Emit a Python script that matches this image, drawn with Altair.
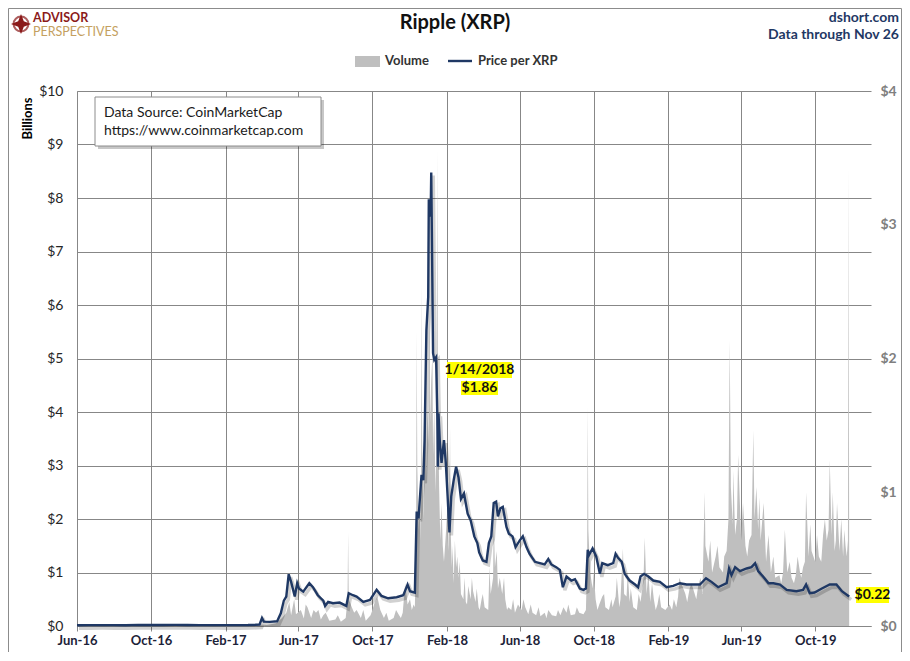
import altair as alt
import pandas as pd

FONT = "Lato"
GRID = "#878787"
NAVY = "#1F3864"

# ---------------- price per XRP (USD) ----------------
price_dates = [
    "2016-06-01", "2016-06-20", "2016-07-10", "2016-07-30", "2016-08-20", "2016-09-10",
    "2016-09-30", "2016-10-20", "2016-11-10", "2016-11-30", "2016-12-20", "2017-01-10",
    "2017-01-30", "2017-02-20", "2017-03-10", "2017-03-22", "2017-03-29",
    "2017-04-02", "2017-04-05", "2017-04-15", "2017-04-27", "2017-05-03", "2017-05-08",
    "2017-05-12", "2017-05-16", "2017-05-20", "2017-05-26", "2017-05-30", "2017-06-02",
    "2017-06-09", "2017-06-19", "2017-06-25", "2017-07-03", "2017-07-12", "2017-07-15",
    "2017-07-20", "2017-07-28", "2017-08-08", "2017-08-19", "2017-08-23", "2017-08-30",
    "2017-09-05", "2017-09-16", "2017-09-27", "2017-10-08", "2017-10-16", "2017-10-27",
    "2017-11-10", "2017-11-21", "2017-11-28", "2017-12-02", "2017-12-10", "2017-12-13",
    "2017-12-16", "2017-12-21", "2017-12-24", "2017-12-26", "2017-12-29",
    "2018-01-01", "2018-01-02", "2018-01-05", "2018-01-06", "2018-01-07", "2018-01-09",
    "2018-01-11", "2018-01-14", "2018-01-16", "2018-01-17", "2018-01-18", "2018-01-20",
    "2018-01-23", "2018-01-27", "2018-01-30", "2018-02-02", "2018-02-05", "2018-02-08",
    "2018-02-12", "2018-02-16", "2018-02-20", "2018-02-24", "2018-03-01", "2018-03-07",
    "2018-03-12", "2018-03-18", "2018-03-23", "2018-03-26", "2018-04-01", "2018-04-07",
    "2018-04-11", "2018-04-15", "2018-04-19", "2018-04-23", "2018-04-26", "2018-04-30",
    "2018-05-04", "2018-05-10", "2018-05-14", "2018-05-20", "2018-05-25", "2018-06-01",
    "2018-06-06", "2018-06-12", "2018-06-17", "2018-06-26", "2018-07-04", "2018-07-12",
    "2018-07-18", "2018-07-23", "2018-07-31", "2018-08-06", "2018-08-11", "2018-08-17",
    "2018-08-25", "2018-08-31", "2018-09-08", "2018-09-14", "2018-09-18", "2018-09-21",
    "2018-09-23", "2018-09-29", "2018-10-05", "2018-10-11", "2018-10-15", "2018-10-24",
    "2018-11-02", "2018-11-06", "2018-11-10", "2018-11-16", "2018-11-21", "2018-11-29",
    "2018-12-08", "2018-12-13", "2018-12-17", "2018-12-23", "2018-12-30",
    "2019-01-07", "2019-01-18", "2019-01-29", "2019-02-09", "2019-02-20", "2019-03-03",
    "2019-03-14", "2019-03-25", "2019-04-04", "2019-04-13", "2019-04-24", "2019-05-08",
    "2019-05-12", "2019-05-16", "2019-05-22", "2019-05-30", "2019-06-10", "2019-06-18",
    "2019-06-24", "2019-06-29", "2019-07-07", "2019-07-16", "2019-07-24", "2019-08-04",
    "2019-08-15", "2019-08-31", "2019-09-11", "2019-09-16", "2019-09-22", "2019-09-30",
    "2019-10-12", "2019-10-25", "2019-11-05", "2019-11-14", "2019-11-26",
]
price_values = [
    0.0059, 0.0065, 0.0067, 0.0062, 0.0061, 0.0083,
    0.0075, 0.0079, 0.0084, 0.0073, 0.0065, 0.0069,
    0.0063, 0.0064, 0.0070, 0.0090, 0.0110,
    0.060, 0.033, 0.031, 0.035, 0.095, 0.19,
    0.22, 0.387, 0.33, 0.22, 0.32, 0.28,
    0.257, 0.32, 0.29, 0.23, 0.19, 0.15,
    0.18, 0.17, 0.175, 0.15, 0.245, 0.23,
    0.22, 0.18, 0.195, 0.27, 0.225, 0.207,
    0.215, 0.23, 0.31, 0.26, 0.25, 0.855,
    0.805, 1.13, 1.09, 1.39, 2.21,
    2.46, 3.19, 3.06, 3.39, 2.96, 2.04,
    1.99, 2.01, 1.57, 1.19, 1.59, 1.39,
    1.22, 1.39, 1.22, 0.97, 0.70, 0.97,
    1.09, 1.19, 1.11, 0.95, 0.99, 0.84,
    0.79, 0.67, 0.62, 0.55, 0.49, 0.48,
    0.62, 0.67, 0.92, 0.93, 0.82, 0.88,
    0.89, 0.74, 0.69, 0.67, 0.59, 0.64,
    0.67, 0.59, 0.54, 0.48, 0.47, 0.46,
    0.50, 0.46, 0.44, 0.42, 0.29, 0.37,
    0.34, 0.35, 0.28, 0.27, 0.28, 0.57,
    0.53, 0.58, 0.52, 0.39, 0.47, 0.455,
    0.47, 0.54, 0.51, 0.48, 0.39, 0.34,
    0.31, 0.29, 0.37, 0.39, 0.37,
    0.34, 0.33, 0.29, 0.30, 0.32, 0.31,
    0.31, 0.31, 0.357, 0.33, 0.29, 0.32,
    0.43, 0.38, 0.44, 0.41, 0.43, 0.44,
    0.47, 0.41, 0.37, 0.32, 0.32, 0.31,
    0.27, 0.26, 0.27, 0.31, 0.245, 0.25,
    0.28, 0.31, 0.31, 0.26, 0.22,
]

# ---------------- daily volume (USD billions) ----------------
vol_dates = [
    "2016-06-01", "2016-08-01", "2016-10-01", "2016-12-01", "2017-02-01", "2017-03-20",
    "2017-04-01", "2017-04-10", "2017-04-25", "2017-05-05", "2017-05-12", "2017-05-17",
    "2017-05-20", "2017-05-25", "2017-05-28", "2017-06-05", "2017-06-10", "2017-06-16",
    "2017-06-22", "2017-06-30", "2017-07-08", "2017-07-16", "2017-07-22", "2017-08-01",
    "2017-08-10", "2017-08-18", "2017-08-21", "2017-08-22", "2017-08-23", "2017-08-28",
    "2017-09-05", "2017-09-12", "2017-09-20", "2017-09-28", "2017-10-05", "2017-10-09",
    "2017-10-14", "2017-10-20", "2017-10-28", "2017-11-05", "2017-11-14", "2017-11-20",
    "2017-11-24", "2017-11-28", "2017-12-05", "2017-12-10", "2017-12-12", "2017-12-13",
    "2017-12-14", "2017-12-16", "2017-12-18", "2017-12-20", "2017-12-21", "2017-12-22",
    "2017-12-24", "2017-12-26", "2017-12-28", "2017-12-29", "2017-12-31",
    "2018-01-02", "2018-01-03", "2018-01-04", "2018-01-06", "2018-01-08", "2018-01-09",
    "2018-01-11", "2018-01-13", "2018-01-15", "2018-01-16", "2018-01-17", "2018-01-19",
    "2018-01-21", "2018-01-23", "2018-01-25", "2018-01-27", "2018-01-30", "2018-02-01",
    "2018-02-03", "2018-02-05", "2018-02-06", "2018-02-07", "2018-02-09", "2018-02-12",
    "2018-02-14", "2018-02-16", "2018-02-18", "2018-02-20", "2018-02-24", "2018-02-28",
    "2018-03-04", "2018-03-08", "2018-03-12", "2018-03-16", "2018-03-20", "2018-03-25",
    "2018-03-30", "2018-04-04", "2018-04-10", "2018-04-12", "2018-04-14", "2018-04-18",
    "2018-04-19", "2018-04-21", "2018-04-24", "2018-04-26", "2018-04-29", "2018-05-03",
    "2018-05-08", "2018-05-13", "2018-05-18", "2018-05-24", "2018-05-29", "2018-06-04",
    "2018-06-10", "2018-06-15", "2018-06-22", "2018-06-28", "2018-07-05", "2018-07-12",
    "2018-07-18", "2018-07-24", "2018-07-31", "2018-08-07", "2018-08-12", "2018-08-17",
    "2018-08-24", "2018-08-31", "2018-09-07", "2018-09-14", "2018-09-18", "2018-09-20",
    "2018-09-21", "2018-09-22", "2018-09-25", "2018-09-29", "2018-10-04", "2018-10-10",
    "2018-10-15", "2018-10-20", "2018-10-26", "2018-11-01", "2018-11-06", "2018-11-14",
    "2018-11-18", "2018-11-20", "2018-11-24", "2018-11-29", "2018-12-05", "2018-12-11",
    "2018-12-17", "2018-12-20", "2018-12-24", "2018-12-27",
    "2019-01-02", "2019-01-08", "2019-01-14", "2019-01-20", "2019-01-27", "2019-02-03",
    "2019-02-10", "2019-02-17", "2019-02-24", "2019-03-01", "2019-03-08", "2019-03-15",
    "2019-03-22", "2019-03-29", "2019-04-02", "2019-04-03", "2019-04-08", "2019-04-14",
    "2019-04-20", "2019-04-26", "2019-05-02", "2019-05-08", "2019-05-11", "2019-05-13",
    "2019-05-15", "2019-05-18", "2019-05-22", "2019-05-25", "2019-05-27", "2019-06-01",
    "2019-06-08", "2019-06-14", "2019-06-18", "2019-06-21", "2019-06-23", "2019-06-29",
    "2019-07-03", "2019-07-08", "2019-07-12", "2019-07-20", "2019-07-27", "2019-08-03",
    "2019-08-09", "2019-08-12", "2019-08-16", "2019-08-23", "2019-08-30", "2019-09-06",
    "2019-09-11", "2019-09-16", "2019-09-20", "2019-09-25", "2019-10-01", "2019-10-07",
    "2019-10-14", "2019-10-20", "2019-10-25", "2019-10-28", "2019-11-02", "2019-11-06",
    "2019-11-10", "2019-11-16", "2019-11-20", "2019-11-24", "2019-11-25", "2019-11-26",
]
vol_values = [
    0.002, 0.003, 0.004, 0.003, 0.004, 0.008,
    0.03, 0.02, 0.05, 0.15, 0.25, 0.45,
    0.2, 0.5, 0.22, 0.3, 0.14, 0.35,
    0.15, 0.25, 0.12, 0.25, 0.1, 0.12,
    0.08, 0.15, 0.5, 1.75, 0.5, 0.35,
    0.3, 0.15, 0.1, 0.2, 0.45, 0.55,
    0.3, 0.15, 0.1, 0.15, 0.2, 0.25,
    0.8, 0.4, 0.3, 0.35, 1.5, 5.5,
    3.0, 1.8, 2.6, 1.6, 6.4, 3.4,
    2.0, 3.1, 4.6, 2.8, 4.0,
    3.4, 5.9, 3.8, 4.6, 5.1, 3.2,
    4.1, 2.5, 3.6, 8.9, 4.4, 2.6,
    1.6, 2.3, 1.5, 1.2, 1.7, 2.1,
    1.4, 2.4, 3.7, 1.8, 1.1, 0.8,
    1.6, 1.1, 1.3, 0.9, 0.6, 0.5,
    0.45, 0.75, 0.5, 0.65, 0.45, 0.35,
    0.5, 0.35, 0.3, 1.1, 0.6, 0.9,
    2.0, 1.1, 1.4, 0.7, 0.9, 0.6,
    0.5, 0.35, 0.3, 0.25, 0.4, 0.3,
    0.35, 0.22, 0.25, 0.2, 0.18, 0.25,
    0.3, 0.2, 0.18, 0.2, 0.35, 0.25,
    0.2, 0.22, 0.25, 0.22, 0.3, 1.2,
    4.1, 1.8, 1.0, 0.7, 0.5, 0.4,
    0.55, 0.35, 0.3, 0.35, 0.55, 0.5,
    1.45, 0.6, 0.55, 0.45, 0.35, 0.3,
    0.45, 0.7, 1.65, 0.6,
    0.45, 0.5, 0.4, 0.35, 0.3, 0.4,
    0.5, 0.55, 0.75, 0.6, 0.7, 0.65,
    0.75, 0.6, 2.5, 1.5, 1.2, 1.0,
    1.3, 1.1, 1.0, 1.4, 2.0, 5.35,
    2.6, 1.9, 1.7, 2.0, 3.2, 1.6,
    1.5, 1.6, 1.7, 3.66, 2.0, 1.8,
    1.6, 2.3, 1.2, 1.0, 0.9, 0.95,
    1.0, 1.8, 1.0, 0.9, 0.95, 1.0,
    1.1, 2.5, 1.3, 1.4, 1.2, 1.3,
    1.7, 1.6, 3.1, 1.7, 1.4, 2.3,
    1.4, 1.3, 1.5, 1.6, 8.58, 1.5,
]

# extra daily readings between the ones above (the area is sorted by date)
vol_extra_dates = [
    "2017-06-13", "2017-06-26", "2017-07-04", "2017-07-12", "2017-08-05", "2017-09-01",
    "2017-09-16", "2017-10-01", "2017-10-24", "2017-11-09", "2017-11-17", "2017-12-02",
    "2017-12-08",
    "2018-02-10", "2018-02-22", "2018-03-02", "2018-03-06", "2018-03-14", "2018-03-22",
    "2018-03-27", "2018-04-01", "2018-05-06", "2018-05-11", "2018-05-21", "2018-06-07",
    "2018-06-19", "2018-07-02", "2018-07-15", "2018-08-03", "2018-08-20", "2018-09-03",
    "2018-10-01", "2018-10-07", "2018-10-18", "2018-10-30", "2018-11-08", "2018-11-12",
    "2018-11-26", "2018-12-01", "2018-12-14", "2018-12-22", "2018-12-30",
    "2019-01-05", "2019-01-11", "2019-01-17", "2019-02-07", "2019-02-14", "2019-02-19",
    "2019-03-04", "2019-03-11", "2019-03-19", "2019-03-26", "2019-04-11", "2019-04-23",
    "2019-05-04", "2019-05-19", "2019-06-04", "2019-06-11", "2019-06-26", "2019-07-01",
    "2019-07-16", "2019-07-24", "2019-08-06", "2019-08-20", "2019-08-27", "2019-09-02",
    "2019-09-08", "2019-09-14", "2019-09-23", "2019-10-04", "2019-10-11", "2019-10-17",
    "2019-10-23", "2019-10-30", "2019-11-04", "2019-11-13", "2019-11-18", "2019-11-22",
]
vol_extra_values = [
    0.4, 0.3, 0.3, 0.2, 0.2, 0.25,
    0.3, 0.3, 0.25, 0.3, 0.15, 0.5,
    0.4,
    1.5, 1.2, 0.9, 0.4, 0.9, 0.7,
    0.3, 0.6, 0.9, 0.3, 0.5, 0.5,
    0.4, 0.35, 0.15, 0.3, 0.4, 0.35,
    1.0, 0.3, 0.6, 0.5, 0.9, 0.35,
    1.0, 0.7, 0.6, 0.9, 1.0,
    0.8, 0.3, 0.6, 0.3, 0.35, 0.9,
    0.45, 0.8, 0.5, 0.9, 1.6, 1.5,
    1.3, 2.9, 2.3, 1.3, 2.6, 2.4,
    1.7, 1.3, 0.8, 1.2, 0.8, 1.3,
    0.9, 1.2, 1.9, 1.7, 1.2, 2.0,
    1.8, 2.5, 1.6, 2.0, 1.8, 1.3,
]

tick_months = [(2016, 6), (2016, 10), (2017, 2), (2017, 6), (2017, 10), (2018, 2),
               (2018, 6), (2018, 10), (2019, 2), (2019, 6), (2019, 10)]
vol_ticks = [0, 1, 2, 3, 4, 5, 6, 7, 8, 9, 10]
price_ticks = [0, 1, 2, 3, 4]

assert len(price_dates) == len(price_values)
assert len(vol_dates) == len(vol_values)
assert len(vol_extra_dates) == len(vol_extra_values)

price_df = pd.DataFrame({"date": price_dates, "price": price_values})
vol_df = pd.DataFrame({"date": vol_dates + vol_extra_dates,
                       "vol": vol_values + vol_extra_values})
vol_df = vol_df.sort_values("date").reset_index(drop=True)
one = pd.DataFrame({"k": [0]})


def dt(y, m):
    return alt.DateTime(year=y, month=m, date=1, utc=True)


x_enc = alt.X(
    "date:T",
    scale=alt.Scale(type="utc", domain=[dt(2016, 6), dt(2020, 1)]),
    axis=alt.Axis(
        values=[dt(y, m) for y, m in tick_months],
        labelExpr="utcFormat(datum.value, '%b-%y')",
        grid=True, gridColor=GRID, domainColor=GRID, tickColor=GRID, tickSize=5,
        labelFlush=False, labelFontSize=13, labelFontWeight="bold", labelColor="#1c2238",
        labelPadding=3, title=None,
    ),
)

y_vol = alt.Y(
    "vol:Q",
    scale=alt.Scale(domain=[0, 10], nice=False),
    axis=alt.Axis(
        orient="left", values=vol_ticks, labelExpr="'$' + datum.value",
        grid=True, gridColor=GRID, domainColor=GRID, ticks=False, labelPadding=14,
        labelFontSize=14, labelColor="#262626", title="Billions", titleFontSize=13,
        titleFontWeight="bold", titleColor="#000000", titleX=-50, titleY=27,
        titleAlign="center", titleBaseline="middle",
    ),
)

y_price = alt.Y(
    "price:Q",
    scale=alt.Scale(domain=[0, 4], nice=False),
    axis=alt.Axis(
        orient="right", values=price_ticks, labelExpr="'$' + datum.value",
        grid=False, domain=False, ticks=False, labelPadding=9, labelFontSize=14,
        labelFontWeight="bold", labelColor="#7f7f7f", title=None,
    ),
)

area = alt.Chart(vol_df).mark_area(color="#BFBFBF").encode(x=x_enc, y=y_vol)

shadow = alt.Chart(price_df).mark_line(
    color="#000000", opacity=0.18, strokeWidth=3.5, xOffset=2, yOffset=3
).encode(x=x_enc, y=y_price)
line = alt.Chart(price_df).mark_line(color=NAVY, strokeWidth=2.4).encode(x=x_enc, y=y_price)
price_layer = alt.layer(shadow, line)


def txt(text, x, y, **kw):
    return alt.Chart(one).mark_text(text=text, font=FONT, **kw).encode(
        x=alt.value(x), y=alt.value(y))


def box(x1, x2, y1, y2, **kw):
    return alt.Chart(one).mark_rect(**kw).encode(
        x=alt.value(x1), x2=alt.value(x2), y=alt.value(y1), y2=alt.value(y2))


star_path = "M0,-1L0.28,-0.28L1,0L0.28,0.28L0,1L-0.28,0.28L-1,0L-0.28,-0.28Z"

decor = [
    # outer frame
    box(-68.5, 824.5, -82.5, 561.5, fill="transparent", stroke="#8c8c8c", strokeWidth=1),
    # logo
    alt.Chart(one).mark_point(shape="circle", size=220, filled=False, stroke="#8B1A1A",
                              strokeWidth=2).encode(x=alt.value(-56), y=alt.value(-67)),
    alt.Chart(one).mark_point(shape=star_path, size=400, filled=True, color="#8B1A1A",
                              opacity=1).encode(x=alt.value(-56), y=alt.value(-67)),
    txt("ADVISOR", -44, -73, align="left", baseline="middle", fontSize=12.5,
        fontWeight="bold", color="#8B1A1A"),
    txt("PERSPECTIVES", -44, -59, align="left", baseline="middle", fontSize=12.5,
        color="#C4A060"),
    # titles
    txt("Ripple (XRP)", 378, -68, align="center", baseline="middle", fontSize=20,
        fontWeight="bold", color="#111111"),
    txt("dshort.com", 822, -73, align="right", baseline="middle", fontSize=14,
        fontWeight="bold", color=NAVY),
    txt("Data through Nov 26", 822, -56, align="right", baseline="middle", fontSize=14,
        fontWeight="bold", color=NAVY),
    # legend
    box(278, 303, -35, -24, fill="#BFBFBF"),
    txt("Volume", 308, -30, align="left", baseline="middle", fontSize=13,
        fontWeight="bold", color="#333333"),
    alt.Chart(one).mark_rule(color=NAVY, strokeWidth=2.4).encode(
        x=alt.value(371), x2=alt.value(395), y=alt.value(-30)),
    txt("Price per XRP", 401, -30, align="left", baseline="middle", fontSize=13,
        fontWeight="bold", color="#333333"),
    # data source box
    box(21, 247, 9, 58, fill="#000000", opacity=0.22),
    box(18, 244, 6, 55, fill="#ffffff", stroke="#8c8c8c", strokeWidth=1),
    txt("Data Source: CoinMarketCap", 27, 22, align="left", baseline="middle",
        fontSize=14, color="#1a1a1a"),
    txt("https://www.coinmarketcap.com", 27, 40, align="left", baseline="middle",
        fontSize=14, color="#1a1a1a"),
    # annotations
    box(370, 435, 271, 287, fill="#FFFF00"),
    box(384, 421, 290, 304, fill="#FFFF00"),
    txt("1/14/2018", 402.5, 279, align="center", baseline="middle", fontSize=14,
        fontWeight="bold", color="#111111"),
    txt("$1.86", 402.5, 297, align="center", baseline="middle", fontSize=14,
        fontWeight="bold", color="#111111"),
    box(779, 812, 496, 512, fill="#FFFF00"),
    txt("$0.22", 795.5, 504, align="center", baseline="middle", fontSize=14,
        fontWeight="bold", color="#111111"),
]

chart = (
    alt.layer(area, price_layer, *decor)
    .resolve_scale(y="independent")
    .properties(
        width=794, height=535, autosize="none",
        padding={"left": 69, "top": 83, "right": 31, "bottom": 26},
        background="#ffffff",
    )
    .configure(font=FONT)
    .configure_view(stroke=None)
)

chart.save("out.html", embed_options={"renderer": "svg", "actions": False})
